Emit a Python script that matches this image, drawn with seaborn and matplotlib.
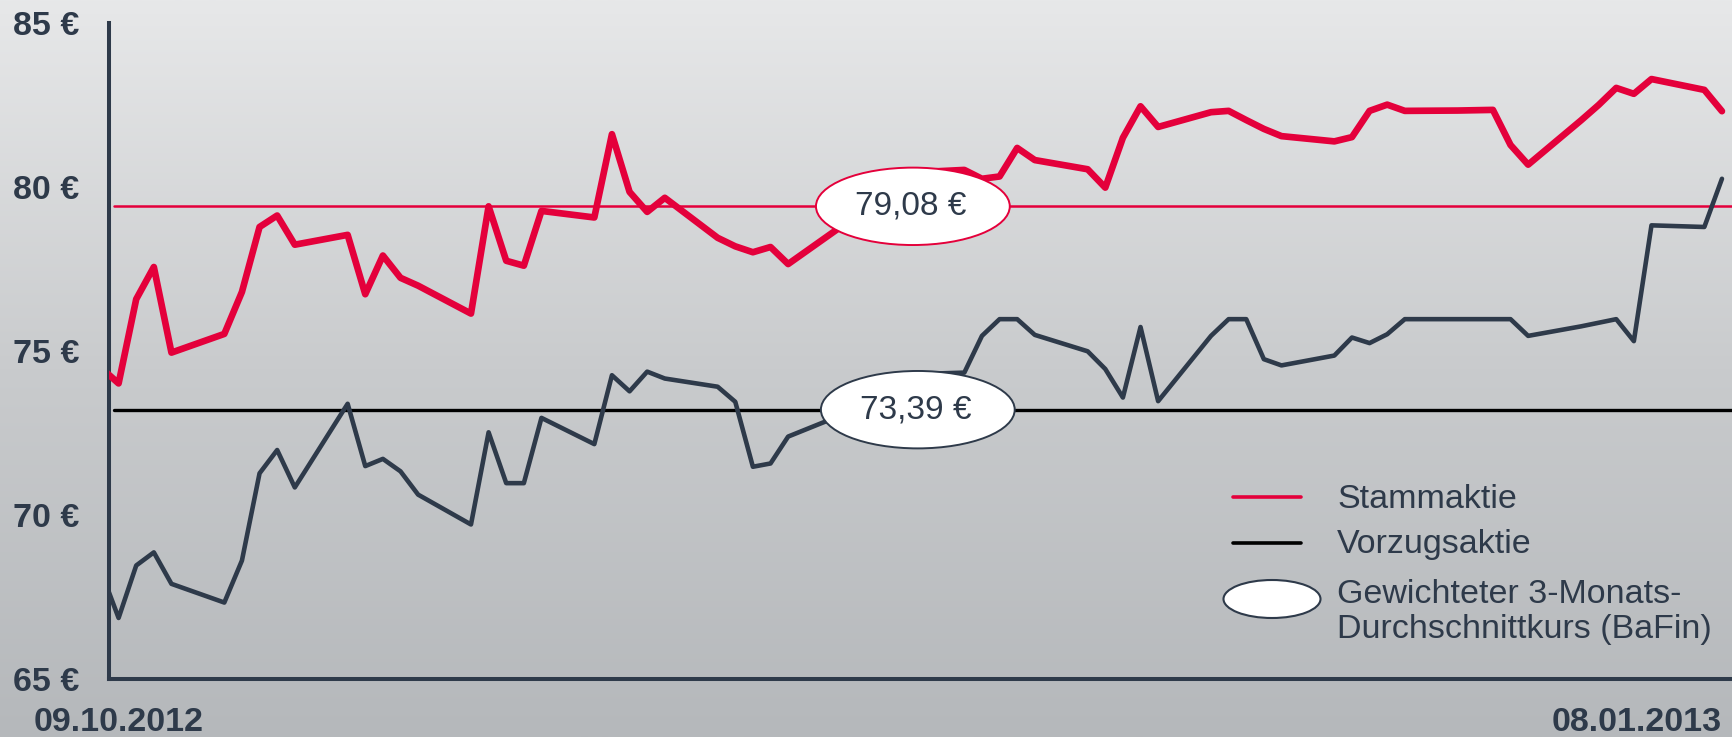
import numpy as np
import pandas as pd
import matplotlib
matplotlib.use("Agg")
import matplotlib.pyplot as plt
from matplotlib.patches import Ellipse
from matplotlib.colors import LinearSegmentedColormap
import seaborn as sns

# trading days (calendar position on x axis)
dates = ["2012-10-08", "2012-10-09", "2012-10-10", "2012-10-11", "2012-10-12",
         "2012-10-15", "2012-10-16", "2012-10-17", "2012-10-18", "2012-10-19",
         "2012-10-22", "2012-10-23", "2012-10-24", "2012-10-25", "2012-10-26",
         "2012-10-29", "2012-10-30", "2012-10-31", "2012-11-01", "2012-11-02",
         "2012-11-05", "2012-11-06", "2012-11-07", "2012-11-08", "2012-11-09",
         "2012-11-12", "2012-11-13", "2012-11-14", "2012-11-15", "2012-11-16",
         "2012-11-19", "2012-11-20", "2012-11-21", "2012-11-22", "2012-11-23",
         "2012-11-26", "2012-11-27", "2012-11-28", "2012-11-29", "2012-11-30",
         "2012-12-03", "2012-12-04", "2012-12-05", "2012-12-06", "2012-12-07",
         "2012-12-10", "2012-12-11", "2012-12-12", "2012-12-13", "2012-12-14",
         "2012-12-17", "2012-12-18", "2012-12-19", "2012-12-20", "2012-12-21",
         "2012-12-24", "2012-12-25", "2012-12-26", "2012-12-27", "2012-12-28",
         "2012-12-31", "2013-01-01", "2013-01-02", "2013-01-03", "2013-01-04",
         "2013-01-07", "2013-01-08"]

stamm = [74.50, 74.02, 76.59, 77.57, 74.96,
         75.53, 76.81, 78.79, 79.14, 78.25,
         78.55, 76.74, 77.92, 77.24, 77.00,
         76.15, 79.42, 77.76, 77.61, 79.28,
         79.08, 81.62, 79.86, 79.25, 79.68,
         78.46, 78.20, 78.02, 78.18, 77.66,
         78.80, 79.20, 79.70, 80.10, 80.45,
         80.53, 80.26, 80.33, 81.20, 80.83,
         80.55, 79.99, 81.51, 82.47, 81.84,
         82.29, 82.33, 82.05, 81.78, 81.56,
         81.40, 81.53, 82.33, 82.52, 82.33,
         82.34, 82.35, 82.36, 81.29, 80.69,
         82.04, 82.51, 83.03, 82.85, 83.30,
         82.97, 82.32]

vorzug = [68.30, 66.87, 68.47, 68.87, 67.91,
          67.34, 68.62, 71.28, 71.99, 70.85,
          73.40, 71.50, 71.72, 71.34, 70.63,
          69.72, 72.53, 70.98, 70.98, 72.97,
          72.17, 74.27, 73.78, 74.38, 74.17,
          73.92, 73.46, 71.48, 71.58, 72.40,
          73.05, 73.40, 73.70, 74.00, 74.30,
          74.35, 75.47, 75.98, 75.98, 75.50,
          75.00, 74.46, 73.59, 75.74, 73.48,
          75.47, 75.98, 75.98, 74.76, 74.57,
          74.87, 75.42, 75.25, 75.52, 75.98,
          75.98, 75.98, 75.98, 75.98, 75.47,
          75.76, 75.87, 75.98, 75.31, 78.84,
          78.79, 80.26]

avg_levels = [79.42, 73.22]
avg_labels = ["79,08 €", "73,39 €"]
y_ticks = [65, 70, 75, 80, 85]
y_labels = ["65 €", "70 €", "75 €", "80 €", "85 €"]
x_labels = ["09.10.2012", "08.01.2013"]
legend_labels = ["Stammaktie", "Vorzugsaktie", "Gewichteter 3-Monats-\nDurchschnittkurs (BaFin)"]

RED = "#e4003b"
SLATE = "#2e3a4a"

sns.set_style("white")
plt.rcParams["font.family"] = ["Liberation Sans", "DejaVu Sans"]

d = pd.to_datetime(dates)
start = pd.Timestamp("2012-10-09")
df = pd.DataFrame({"day": (d - start).days, "Stammaktie": stamm, "Vorzugsaktie": vorzug})
last_day = (pd.Timestamp("2013-01-08") - start).days

fig = plt.figure(figsize=(17.32, 7.37), dpi=100)

# gradient background
bg = fig.add_axes([0, 0, 1, 1], zorder=0)
cmap = LinearSegmentedColormap.from_list("bg", ["#e7e8e9", "#c9cbcd", "#b5b8bb"])
bg.imshow(np.linspace(0, 1, 256).reshape(-1, 1), aspect="auto", cmap=cmap,
          extent=[0, 1, 0, 1], origin="upper")
bg.axis("off")

ax = fig.add_axes([0.06293, 0.07829, 0.93707, 0.89010], zorder=1)
ax.patch.set_alpha(0)

ax.axhline(avg_levels[0], xmin=0.003, color=RED, lw=1.8, zorder=2)
ax.axhline(avg_levels[1], xmin=0.003, color="black", lw=2.4, zorder=2)

sns.lineplot(data=df, x="day", y="Vorzugsaktie", color=SLATE, lw=3.3, ax=ax, zorder=3)
sns.lineplot(data=df, x="day", y="Stammaktie", color=RED, lw=4.8, ax=ax, zorder=4)

# average labels in ellipses
for cx, lvl, lab, ec in [(45.08, avg_levels[0], avg_labels[0], RED),
                         (45.36, avg_levels[1], avg_labels[1], SLATE)]:
    ax.add_patch(Ellipse((cx, lvl), 11.0, 2.36, fc="white", ec=ec, lw=1.4, zorder=6))
    ax.text(cx - 0.1, lvl, lab, ha="center", va="center", fontsize=24,
            color=SLATE, zorder=7)

ax.set_xlim(-0.545, 91.57)
ax.set_ylim(65, 85)
ax.set_xlabel("")
ax.set_ylabel("")

ax.set_yticks(y_ticks, y_labels)
ax.tick_params(axis="y", length=7.2, width=2.9, color=SLATE, pad=14,
               labelsize=24.5, labelcolor=SLATE)
ax.set_xticks([0, last_day], x_labels)
ax.tick_params(axis="x", which="major", length=0, pad=20, labelsize=24.5, labelcolor=SLATE)
ax.set_xticks([-0.545], minor=True)
ax.tick_params(axis="x", which="minor", length=7.2, width=2.9, color=SLATE)
for lbl in ax.get_yticklabels() + ax.get_xticklabels():
    lbl.set_fontweight("bold")
ax.get_xticklabels()[1].set_horizontalalignment("right")

for s in ["top", "right"]:
    ax.spines[s].set_visible(False)
for s in ["left", "bottom"]:
    ax.spines[s].set_linewidth(2.9)
    ax.spines[s].set_color(SLATE)
ax.grid(False)

# legend drawn in figure pixels
lg = fig.add_axes([0, 0, 1, 1], zorder=2)
lg.set_xlim(0, 1732)
lg.set_ylim(737, 0)
lg.axis("off")
lg.plot([1233, 1301], [497, 497], color=RED, lw=2.6)
lg.plot([1233, 1301], [543, 543], color="black", lw=2.6)
lg.add_patch(Ellipse((1272, 599), 97, 38, fc="white", ec=SLATE, lw=1.5))
lg.text(1337, 499, legend_labels[0], va="center", fontsize=24.5, color=SLATE)
lg.text(1337, 544, legend_labels[1], va="center", fontsize=24.5, color=SLATE)
lg.text(1337, 612, legend_labels[2], va="center", fontsize=24.5, color=SLATE,
        linespacing=1.15)

fig.savefig("out.png", dpi=100)
